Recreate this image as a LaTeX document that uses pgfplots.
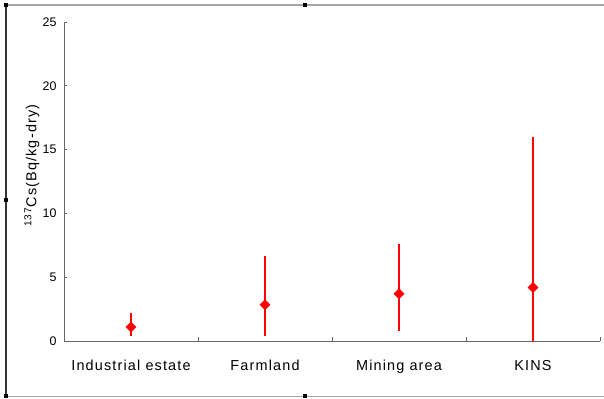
\documentclass[border=0pt]{standalone}
\usepackage{fontspec}
\setmainfont{Liberation Sans}[LetterSpace=8]
\newfontfamily\tickfont{Liberation Sans}
\usepackage{pgfplots}
\pgfplotsset{compat=1.18}
\usepackage{pgfplotstable}
\pgfplotstableread{
x y ep em
0.5 1.1 1.1 0.7
1.5 2.85 3.8 2.45
2.5 3.7 3.9 2.95
3.5 4.2 11.8 4.2
}\datatab
\begin{document}
\begin{tikzpicture}[x=1bp,y=1bp]
\useasboundingbox (0,0) rectangle (604,398);
\draw[gray!70, line width=1.5bp] (6,393) -- (604,393);
\draw[gray!70, line width=1bp] (6,2) -- (604,2);
\draw[black!80, line width=1.2bp] (6,2) -- (6,393);
\foreach \p in {(6,393),(6,198),(6,2),(305,393),(305,2)} {\fill[black] \p ++(-2,-2) rectangle ++(4,4);}
\begin{axis}[
  at={(64bp,57bp)}, anchor=origin,
  scale only axis, width=536bp, height=319bp,
  xmin=0, xmax=4, ymin=0, ymax=25,
  axis lines=left,
  axis line style={-, draw=gray!80!black, line width=0.8bp},
  xtick={0.5,1.5,2.5,3.5},
  xticklabels={Industrial estate, Farmland, Mining area, KINS},
  minor xtick={1,2,3,4},
  major x tick style={draw=none},
  minor tick length=4bp,
  ytick={0,5,10,15,20,25},
  tick align=inside,
  major tick length=3bp,
  tick style={gray!80!black, line width=0.6bp},
  /pgf/number format/assume math mode=true,
  yticklabel style={font=\tickfont\fontsize{12.5}{14}\selectfont, xshift=-4bp},
  xticklabel style={font=\fontsize{14.5}{16}\selectfont, yshift=-16bp},
  ylabel={\textsuperscript{137}Cs(Bq/kg-dry)},
  every axis y label/.style={at={(axis description cs:-0.06,0.55)}, rotate=90, anchor=center, font=\fontsize{14.5}{16}\selectfont},
  clip=false,
]
\addplot[only marks, mark=square*, mark size=3.6bp, mark options={rotate=45, fill=red, draw=red}, draw=red,
  error bars/.cd, y dir=both, y explicit, error mark=none,
  error bar style={red, line width=1.6bp}]
  table[x=x, y=y, y error plus=ep, y error minus=em] {\datatab};
\end{axis}
\end{tikzpicture}
\end{document}
